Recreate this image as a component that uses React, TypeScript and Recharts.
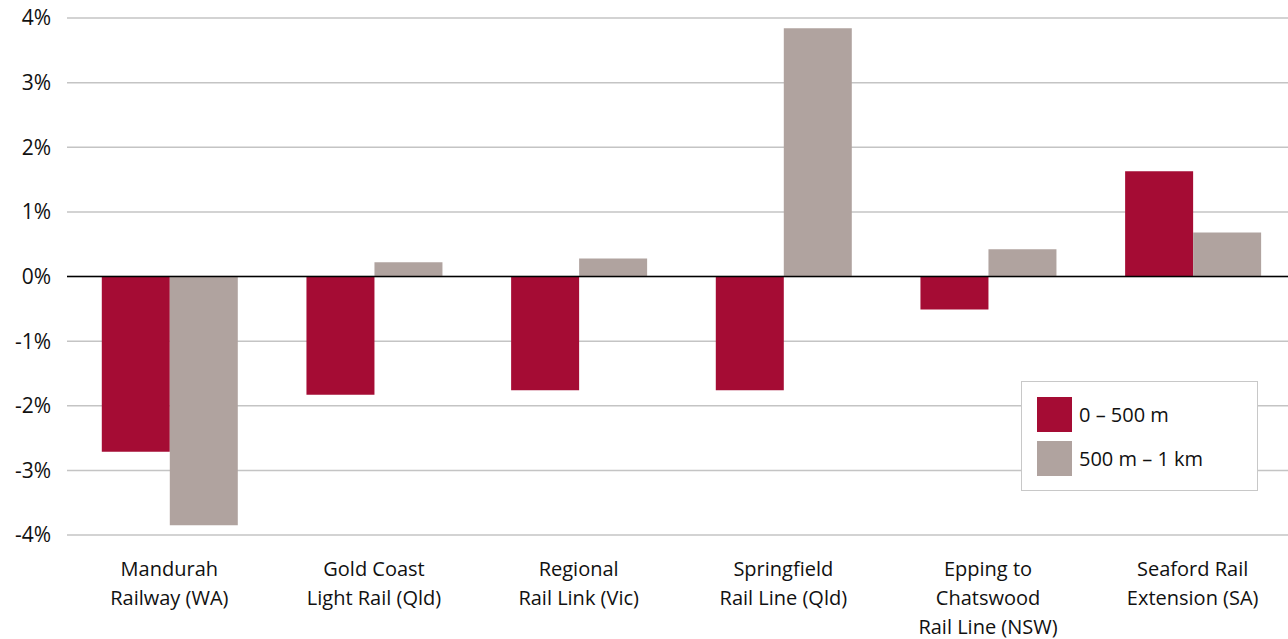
import React from 'react';
import { BarChart, Bar, XAxis, YAxis, CartesianGrid, ReferenceLine } from 'recharts';

const categories = [
  'Mandurah\nRailway (WA)',
  'Gold Coast\nLight Rail (Qld)',
  'Regional\nRail Link (Vic)',
  'Springfield\nRail Line (Qld)',
  'Epping to\nChatswood\nRail Line (NSW)',
  'Seaford Rail\nExtension (SA)',
];
const near = [-2.71, -1.83, -1.76, -1.76, -0.51, 1.63]; // 0 – 500 m
const far = [-3.85, 0.22, 0.28, 3.84, 0.42, 0.68]; // 500 m – 1 km
const yTicks = [-4, -3, -2, -1, 0, 1, 2, 3, 4];
const legendItems = ['0 – 500 m', '500 m – 1 km'];

const RED = '#a50c34';
const GREY = '#b0a39f';
const FONT = '"Open Sans", "DejaVu Sans", sans-serif';

const data = categories.map((name, i) => ({ name, near: near[i], far: far[i] }));

const CategoryTick = (props: any) => {
  const { x, y, payload } = props;
  const lines = String(payload.value).split('\n');
  return (
    <text x={x} y={y} textAnchor="middle" fill="#111" fontSize={20} fontFamily={FONT}>
      {lines.map((l, i) => (
        <tspan key={i} x={x} dy={i === 0 ? 33 : 29}>{l}</tspan>
      ))}
    </text>
  );
};

const LegendBox = () => (
  <div style={{ position: 'absolute', left: 1021, top: 381, border: '1.5px solid #c8c8c8', background: '#fff', width: 237, height: 110, boxSizing: 'border-box', padding: '15px 0 0 15px', fontFamily: FONT, fontSize: 20, color: '#111' }}>
    {[RED, GREY].map((c, i) => (
      <div key={i} style={{ display: 'flex', alignItems: 'center', height: 35, marginBottom: 9 }}>
        <div style={{ width: 35, height: 35, background: c, marginRight: 7 }} />
        <span>{legendItems[i]}</span>
      </div>
    ))}
  </div>
);

export default function App() {
  return (
    <div style={{ position: 'absolute', left: 0, top: 0, width: 1288, height: 639, background: '#fff', overflow: 'hidden' }}>
      <BarChart width={1295} height={639} data={data} margin={{ top: 18, right: 0, left: 0, bottom: 0 }} barCategoryGap="17%" barGap={0}>
        <CartesianGrid vertical={false} stroke="#c4c4c4" strokeWidth={1.5} />
        <XAxis dataKey="name" height={104} axisLine={false} tickLine={false} tick={<CategoryTick />} interval={0} />
        <YAxis
          width={67}
          domain={[-4, 4]}
          ticks={yTicks}
          axisLine={false}
          tickLine={false}
          tickMargin={10}
          tickFormatter={(v: number) => `${v}%`}
          tick={{ fontSize: 21, fill: '#111', fontFamily: FONT }}
        />
        <ReferenceLine y={0} stroke="#000" strokeWidth={1.5} />
        <Bar dataKey="near" name={legendItems[0]} fill={RED} isAnimationActive={false} />
        <Bar dataKey="far" name={legendItems[1]} fill={GREY} isAnimationActive={false} />
      </BarChart>
      <LegendBox />
    </div>
  );
}
